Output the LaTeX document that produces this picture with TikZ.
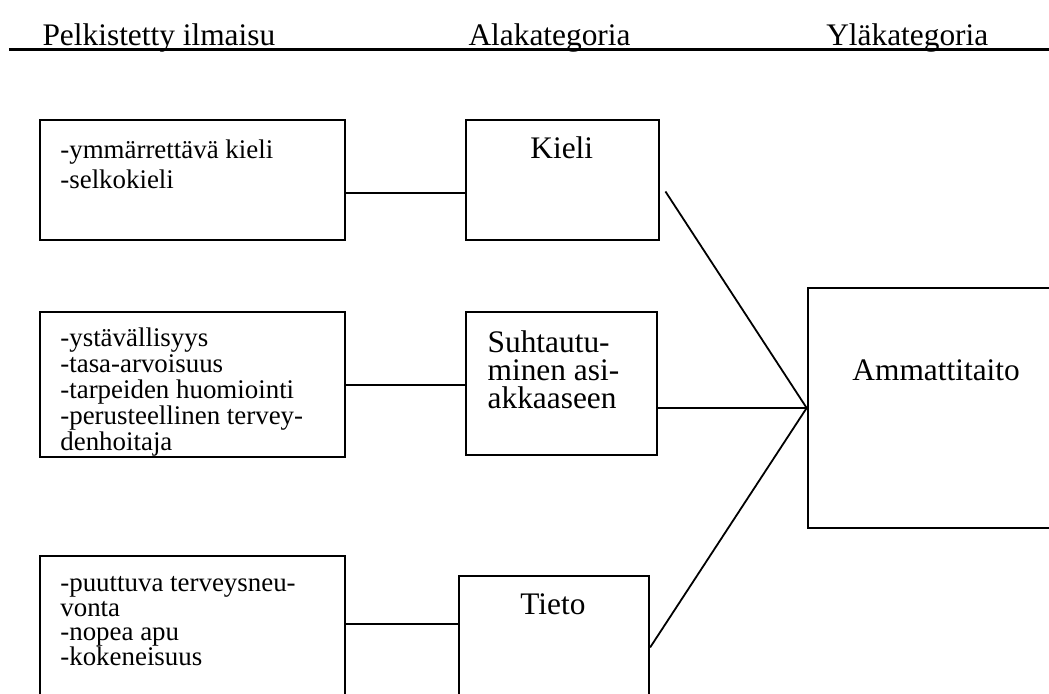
\documentclass[tikz,border=0pt]{standalone}
\usepackage{fontspec}
\setmainfont{Liberation Serif}

\tikzset{
  box/.style={draw, line width=1pt, anchor=north west, inner sep=0pt},
  txt/.style={anchor=base west, inner sep=0pt, align=left, font=\fontsize{12}{#1}\selectfont},
  cat/.style={anchor=base, inner sep=0pt, font=\fontsize{14}{#1}\selectfont},
  link/.style={line width=0.8pt}
}

\begin{document}
\begin{tikzpicture}
    \useasboundingbox (0,0) rectangle (16.45,-10.87);
    \clip (0,0) rectangle (16.45,-10.87);
    % otsikot
    \node[cat=17pt, anchor=base west] (h1) at (0.66,-0.71) {Pelkistetty ilmaisu};
    \node[cat=17pt, anchor=base west] (h2) at (7.34,-0.71) {Alakategoria};
    \node[cat=17pt, anchor=base west] (h3) at (12.95,-0.71) {Yläkategoria};
    \draw[line width=1.3pt] (0.14,-0.77)--(16.45,-0.77);
    % laatikot
    \node[box, minimum width=4.78cm, minimum height=1.87cm] (ilm1) at (0.61,-1.87) {};
    \node[box, minimum width=4.78cm, minimum height=2.27cm] (ilm2) at (0.61,-4.88) {};
    \node[box, minimum width=4.78cm, minimum height=2.90cm] (ilm3) at (0.61,-8.70) {};
    \node[box, minimum width=3.03cm, minimum height=1.87cm] (kieli) at (7.29,-1.87) {};
    \node[box, minimum width=3.00cm, minimum height=2.24cm] (suht) at (7.29,-4.88) {};
    \node[box, minimum width=2.98cm, minimum height=2.23cm] (tieto) at (7.18,-9.02) {};
    \node[box, minimum width=4.12cm, minimum height=3.76cm] (ammatti) at (12.65,-4.50) {};
    % tekstit (ankkuri = viimeisen rivin perusviiva)
    \node[txt=13.4pt] (t1) at (0.94,-2.96) {-ymmärrettävä kieli\\-selkokieli};
    \node[txt=11.6pt] (t2) at (0.94,-7.07) {-ystävällisyys\\-tasa-arvoisuus\\-tarpeiden huomiointi\\-perusteellinen tervey-\\denhoitaja};
    \node[txt=10.9pt] (t3) at (0.94,-10.43) {-puuttuva terveysneu-\\vonta\\-nopea apu\\-kokeneisuus};
    \node[cat=17pt] (tk) at (8.81,-2.49) {Kieli};
    \node[cat=12.5pt, anchor=base west, align=left] (ts) at (7.64,-6.40) {Suhtautu-\\minen asi-\\akkaaseen};
    \node[cat=17pt] (tt) at (8.67,-9.63) {Tieto};
    \node[cat=17pt] (ta) at (14.68,-5.96) {Ammattitaito};
    % viivat
    \draw[link] ([yshift=-0.2cm]ilm1.east)--([yshift=-0.2cm]kieli.west);
    \draw[link] (ilm2.east)--(ilm2.east -| suht.west);
    \draw[link] ([yshift=0.38cm]ilm3.east)--([yshift=0.38cm]ilm3.east -| tieto.west);
    \draw[link] ([xshift=0.08cm,yshift=-0.18cm]kieli.east)--(ammatti.west);
    \draw[link] (suht.east |- ammatti.west)--(ammatti.west);
    \draw[link] (tieto.east)--(ammatti.west);
\end{tikzpicture}
\end{document}
